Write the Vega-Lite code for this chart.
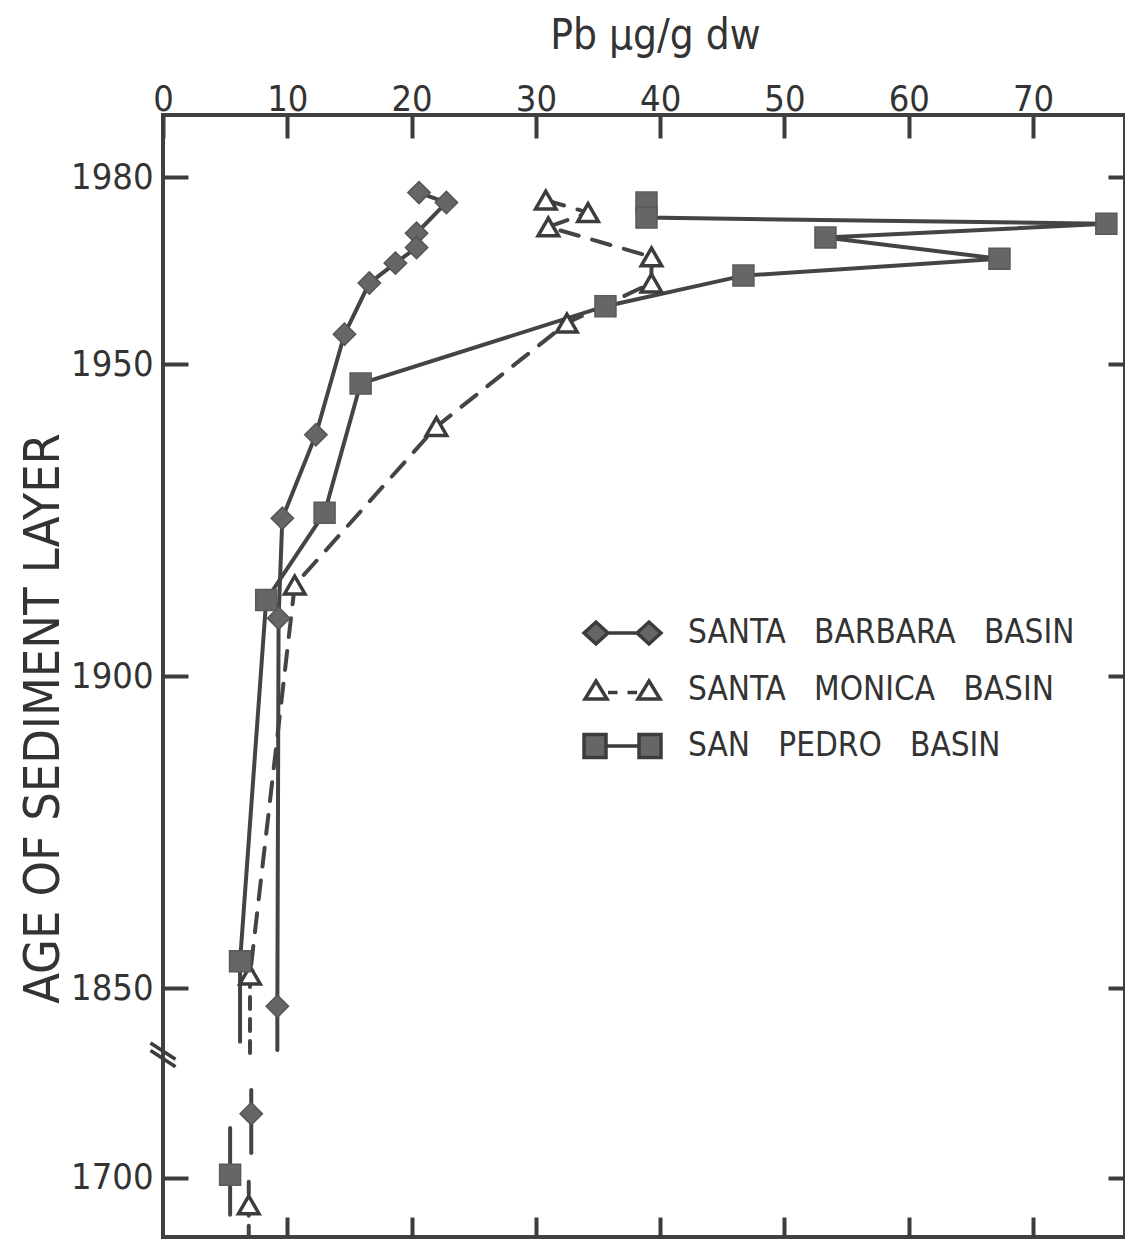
{
  "$schema": "https://vega.github.io/schema/vega-lite/v6.json",
  "width": 962,
  "height": 1122,
  "autosize": {"type": "none"},
  "padding": {"left": 163, "top": 115, "right": 0, "bottom": 2},
  "background": "white",
  "config": {
    "view": {"stroke": "#404040", "strokeWidth": 4},
    "font": "DejaVu Sans Condensed, sans-serif",
    "axis": {
      "domain": false,
      "grid": false,
      "tickColor": "#3c3c3c",
      "tickWidth": 4,
      "labelColor": "#333333",
      "titleColor": "#333333",
      "labelFont": "DejaVu Sans Condensed, sans-serif",
      "titleFont": "DejaVu Sans Condensed, sans-serif",
      "titleFontWeight": "normal",
      "labelOverlap": false,
      "labelFlush": false
    }
  },
  "datasets": {
    "pts": [
      {"basin": "SANTA BARBARA BASIN", "pb": 20.6, "year": 1977.5, "section": "recent"},
      {"basin": "SANTA BARBARA BASIN", "pb": 22.8, "year": 1975.9, "section": "recent"},
      {"basin": "SANTA BARBARA BASIN", "pb": 20.4, "year": 1971.0, "section": "recent"},
      {"basin": "SANTA BARBARA BASIN", "pb": 20.4, "year": 1968.7, "section": "recent"},
      {"basin": "SANTA BARBARA BASIN", "pb": 18.7, "year": 1966.2, "section": "recent"},
      {"basin": "SANTA BARBARA BASIN", "pb": 16.6, "year": 1963.0, "section": "recent"},
      {"basin": "SANTA BARBARA BASIN", "pb": 14.6, "year": 1954.8, "section": "recent"},
      {"basin": "SANTA BARBARA BASIN", "pb": 12.3, "year": 1938.7, "section": "recent"},
      {"basin": "SANTA BARBARA BASIN", "pb": 9.6, "year": 1925.3, "section": "recent"},
      {"basin": "SANTA BARBARA BASIN", "pb": 9.3, "year": 1909.3, "section": "recent"},
      {"basin": "SANTA BARBARA BASIN", "pb": 9.2, "year": 1847.1, "section": "recent", "span_top": 1847.1, "span_bottom": 1840.1},
      {"basin": "SANTA BARBARA BASIN", "pb": 7.1, "year": 1710.3, "section": "old", "span_top": 1714.1, "span_bottom": 1704.0},
      {"basin": "SANTA MONICA BASIN", "pb": 30.8, "year": 1976.3, "section": "recent"},
      {"basin": "SANTA MONICA BASIN", "pb": 34.2, "year": 1974.3, "section": "recent"},
      {"basin": "SANTA MONICA BASIN", "pb": 31.0, "year": 1972.0, "section": "recent"},
      {"basin": "SANTA MONICA BASIN", "pb": 39.3, "year": 1967.2, "section": "recent"},
      {"basin": "SANTA MONICA BASIN", "pb": 39.3, "year": 1963.0, "section": "recent"},
      {"basin": "SANTA MONICA BASIN", "pb": 32.5, "year": 1956.6, "section": "recent"},
      {"basin": "SANTA MONICA BASIN", "pb": 22.0, "year": 1940.0, "section": "recent"},
      {"basin": "SANTA MONICA BASIN", "pb": 10.6, "year": 1914.6, "section": "recent"},
      {"basin": "SANTA MONICA BASIN", "pb": 7.0, "year": 1852.1, "section": "recent", "span_top": 1852.1, "span_bottom": 1838.2},
      {"basin": "SANTA MONICA BASIN", "pb": 6.9, "year": 1695.7, "section": "old", "span_top": 1699.4, "span_bottom": 1689.0},
      {"basin": "SAN PEDRO BASIN", "pb": 38.9, "year": 1975.9, "section": "recent"},
      {"basin": "SAN PEDRO BASIN", "pb": 38.9, "year": 1973.5, "section": "recent"},
      {"basin": "SAN PEDRO BASIN", "pb": 75.9, "year": 1972.5, "section": "recent"},
      {"basin": "SAN PEDRO BASIN", "pb": 53.3, "year": 1970.3, "section": "recent"},
      {"basin": "SAN PEDRO BASIN", "pb": 67.3, "year": 1966.9, "section": "recent"},
      {"basin": "SAN PEDRO BASIN", "pb": 46.7, "year": 1964.2, "section": "recent"},
      {"basin": "SAN PEDRO BASIN", "pb": 35.6, "year": 1959.3, "section": "recent"},
      {"basin": "SAN PEDRO BASIN", "pb": 15.9, "year": 1946.9, "section": "recent"},
      {"basin": "SAN PEDRO BASIN", "pb": 13.0, "year": 1926.2, "section": "recent"},
      {"basin": "SAN PEDRO BASIN", "pb": 8.3, "year": 1912.2, "section": "recent"},
      {"basin": "SAN PEDRO BASIN", "pb": 6.2, "year": 1854.3, "section": "recent", "span_top": 1854.3, "span_bottom": 1841.4},
      {"basin": "SAN PEDRO BASIN", "pb": 5.4, "year": 1700.5, "section": "old", "span_top": 1708.0, "span_bottom": 1694.1}
    ]
  },
  "data": {"name": "pts"},
  "layer": [
    {
      "transform": [{"filter": "datum.basin !== 'SANTA MONICA BASIN'"}],
      "mark": {"type": "line", "clip": true, "strokeWidth": 4, "color": "#444444", "strokeCap": "round"},
      "encoding": {
        "x": {
          "field": "pb", "type": "quantitative",
          "scale": {"domain": [0, 77.4], "nice": false, "zero": false},
          "axis": {
            "orient": "top",
            "values": [0, 10, 20, 30, 40, 50, 60, 70],
            "tickSize": -23,
            "labelPadding": 28,
            "labelFontSize": 36,
            "labelBaseline": "alphabetic",
            "title": "Pb μg/g dw",
            "titleFontSize": 42,
            "titleX": 492,
            "titleY": -67,
            "titleBaseline": "alphabetic",
            "titleAlign": "center"
          }
        },
        "y": {
          "field": "year", "type": "quantitative",
          "scale": {"domain": [1690.54, 1718.27, 1837.85, 1989.94], "range": [1122, 949, 949, 0], "nice": false, "zero": false},
          "axis": {
            "orient": "left",
            "values": [1700, 1850, 1900, 1950, 1980],
            "format": "d",
            "tickSize": -25,
            "labelPadding": 35,
            "labelFontSize": 36,
            "labelBaseline": "middle",
            "title": "AGE OF SEDIMENT LAYER",
            "titleFontSize": 50,
            "titleX": -120,
            "titleY": 603,
            "titleAngle": -90,
            "titleBaseline": "middle",
            "titleAlign": "center"
          }
        },
        "detail": [{"field": "basin"}, {"field": "section"}],
        "order": {"field": "year", "sort": "descending"}
      }
    },
    {
      "transform": [{"filter": "datum.basin === 'SANTA MONICA BASIN'"}],
      "mark": {"type": "line", "clip": true, "strokeWidth": 4, "color": "#444444", "strokeCap": "round", "strokeDash": [19, 14]},
      "encoding": {
        "x": {"field": "pb", "type": "quantitative", "axis": null},
        "y": {"field": "year", "type": "quantitative", "axis": null},
        "detail": {"field": "section"},
        "order": {"field": "year", "sort": "descending"}
      }
    },
    {
      "transform": [{"filter": "isValid(datum.span_top) && datum.basin !== 'SANTA MONICA BASIN'"}],
      "mark": {"type": "rule", "clip": true, "strokeWidth": 4, "color": "#444444", "strokeCap": "round"},
      "encoding": {
        "x": {
          "field": "pb", "type": "quantitative",
          "axis": {"orient": "bottom", "values": [10, 20, 30, 40, 50, 60, 70], "tickSize": -20, "labels": false, "title": null}
        },
        "y": {
          "field": "span_top", "type": "quantitative",
          "axis": {"orient": "right", "values": [1700, 1850, 1900, 1950, 1980], "tickSize": -17, "labels": false, "title": null}
        },
        "y2": {"field": "span_bottom"}
      }
    },
    {
      "transform": [{"filter": "isValid(datum.span_top) && datum.basin === 'SANTA MONICA BASIN'"}],
      "mark": {"type": "rule", "clip": true, "strokeWidth": 4, "color": "#444444", "strokeCap": "round", "strokeDash": [12, 10]},
      "encoding": {
        "x": {"field": "pb", "type": "quantitative", "axis": null},
        "y": {"field": "span_top", "type": "quantitative", "axis": null},
        "y2": {"field": "span_bottom"}
      }
    },
    {
      "transform": [{"filter": "datum.basin === 'SANTA BARBARA BASIN'"}],
      "mark": {"type": "point", "shape": "diamond", "filled": true, "size": 500, "fill": "#666666", "stroke": "#555555", "strokeWidth": 1.5, "opacity": 1, "clip": true},
      "encoding": {
        "x": {"field": "pb", "type": "quantitative", "axis": null},
        "y": {"field": "year", "type": "quantitative", "axis": null}
      }
    },
    {
      "transform": [{"filter": "datum.basin === 'SANTA MONICA BASIN'"}],
      "mark": {"type": "point", "shape": "triangle-up", "filled": true, "size": 420, "fill": "#ffffff", "stroke": "#3c3c3c", "strokeWidth": 3.5, "opacity": 1, "clip": true},
      "encoding": {
        "x": {"field": "pb", "type": "quantitative", "axis": null},
        "y": {"field": "year", "type": "quantitative", "axis": null}
      }
    },
    {
      "transform": [{"filter": "datum.basin === 'SAN PEDRO BASIN'"}],
      "mark": {"type": "point", "shape": "square", "filled": true, "size": 441, "fill": "#666666", "stroke": "#5a5a5a", "strokeWidth": 1.5, "opacity": 1, "clip": true},
      "encoding": {
        "x": {"field": "pb", "type": "quantitative", "axis": null},
        "y": {"field": "year", "type": "quantitative", "axis": null}
      }
    },
    {
      "mark": {"type": "point", "filled": true, "opacity": 0},
      "encoding": {
        "x": {"field": "pb", "type": "quantitative", "axis": null},
        "y": {"field": "year", "type": "quantitative", "axis": null},
        "shape": {
          "field": "basin", "type": "nominal",
          "scale": {
            "domain": ["SANTA BARBARA BASIN", "SANTA MONICA BASIN", "SAN PEDRO BASIN"],
            "range": [
              "M-1.54,0L-1.06,-0.44L-0.58,0L-1.06,0.44Z M-0.58,0L0.58,0 M0.58,0L1.06,-0.44L1.54,0L1.06,0.44Z",
              "M-1.06,-0.36L-0.62,0.36L-1.5,0.36Z M-0.58,0.1L-0.2,0.1 M0.2,0.1L0.58,0.1 M1.06,-0.36L1.5,0.36L0.62,0.36Z",
              "M-1.54,-0.46L-0.66,-0.46L-0.66,0.46L-1.54,0.46Z M-0.66,0L0.66,0 M0.66,-0.46L1.54,-0.46L1.54,0.46L0.66,0.46Z"
            ]
          },
          "legend": {
            "title": null, "orient": "none", "legendX": 432.5, "legendY": 491,
            "symbolSize": 2500, "symbolStrokeWidth": 3.5, "symbolStrokeColor": "#3c3c3c", "symbolOpacity": 1,
            "labelFont": "DejaVu Sans Condensed, sans-serif", "labelFontSize": 33, "labelColor": "#333333",
            "labelOffset": 38.5, "rowPadding": 12, "padding": 0, "labelLimit": 800,
            "labelExpr": "replace(datum.label, / /g, '\u00a0\u00a0\u00a0')",
            "encode": {"symbols": {"update": {"opacity": {"value": 1}, "stroke": {"value": "#3c3c3c"}, "strokeWidth": {"value": 3.5}}}}
          }
        },
        "fill": {
          "field": "basin", "type": "nominal",
          "scale": {"domain": ["SANTA BARBARA BASIN", "SANTA MONICA BASIN", "SAN PEDRO BASIN"], "range": ["#666666", "#ffffff", "#666666"]},
          "legend": {
            "title": null, "orient": "none", "legendX": 432.5, "legendY": 491,
            "symbolSize": 2500, "symbolStrokeWidth": 3.5, "symbolStrokeColor": "#3c3c3c", "symbolOpacity": 1,
            "labelFont": "DejaVu Sans Condensed, sans-serif", "labelFontSize": 33, "labelColor": "#333333",
            "labelOffset": 38.5, "rowPadding": 12, "padding": 0, "labelLimit": 800,
            "labelExpr": "replace(datum.label, / /g, '\u00a0\u00a0\u00a0')",
            "encode": {"symbols": {"update": {"opacity": {"value": 1}, "stroke": {"value": "#3c3c3c"}, "strokeWidth": {"value": 3.5}}}}
          }
        }
      }
    },
    {
      "data": {"values": [{}]},
      "mark": {"type": "point", "shape": "M-1,-1.1L1,0.2M-1,-0.5L1,0.8", "size": 625, "filled": false, "stroke": "#3c3c3c", "strokeWidth": 3.5, "opacity": 1},
      "encoding": {
        "x": {"datum": 0, "type": "quantitative", "axis": null},
        "y": {"datum": 1839, "type": "quantitative", "axis": null}
      }
    }
  ],
  "resolve": {"axis": {"x": "independent", "y": "independent"}}
}
